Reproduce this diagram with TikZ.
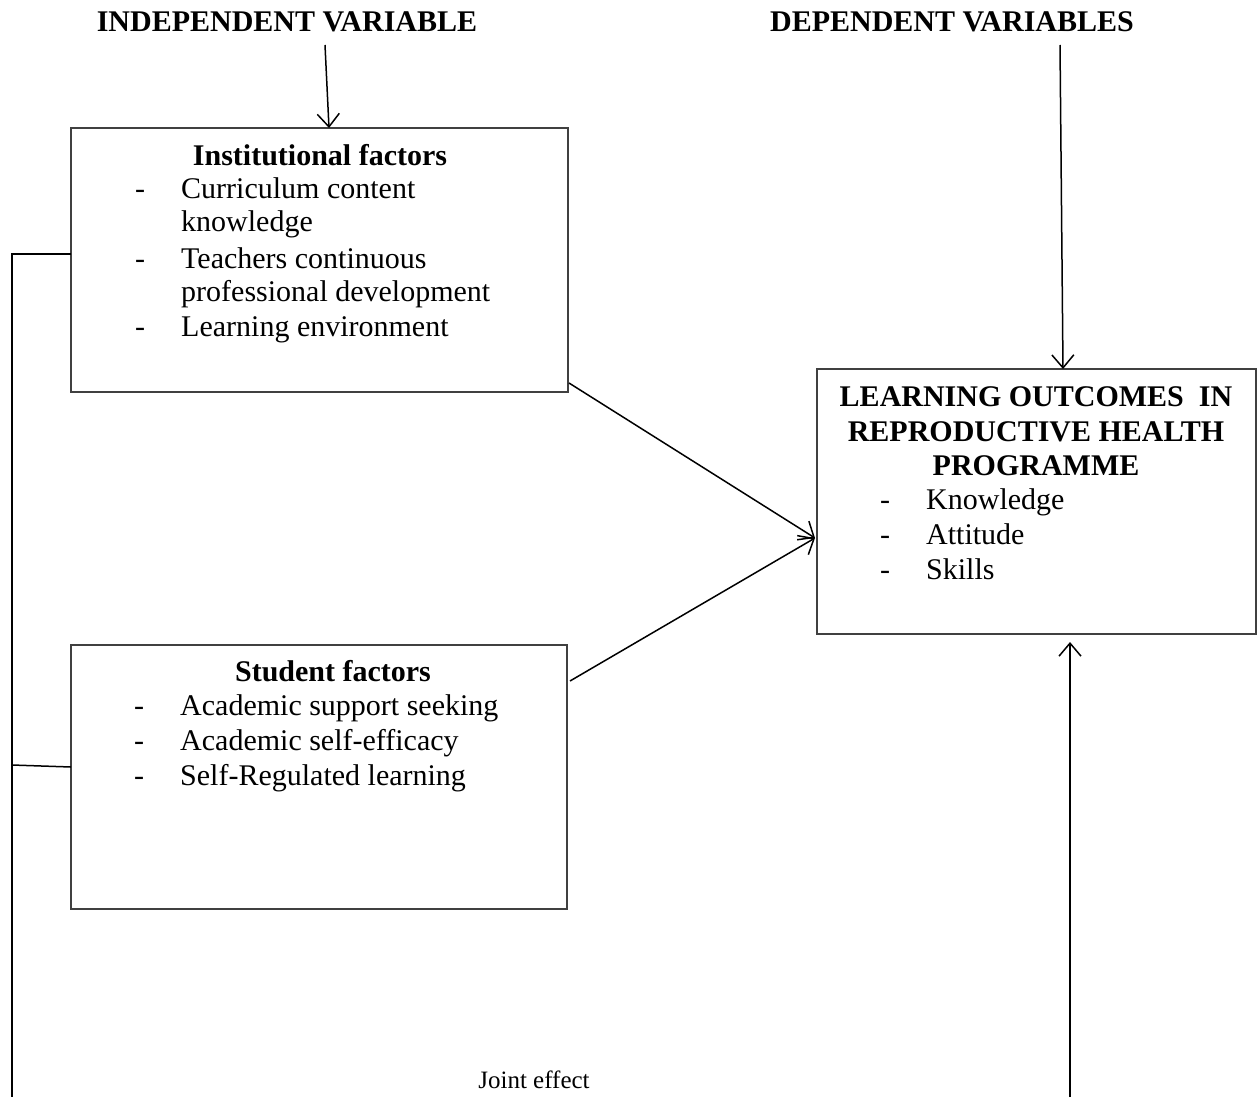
\documentclass[tikz,border=0pt]{standalone}
\usepackage{fontspec}
\setmainfont{Liberation Serif}
\usetikzlibrary{arrows.meta}
\begin{document}
\begin{tikzpicture}[x=1pt,y=-1pt,
  box/.style={draw=black!75,line width=1.2pt,inner sep=0,minimum width=#1},
  txt/.style={inner sep=0,anchor=base west,font=\fontsize{30}{34}\selectfont},
  ctxt/.style={inner sep=0,anchor=base,font=\fontsize{30}{34}\selectfont\bfseries},
  conn/.style={line width=1.5pt,black},
  arr/.style={conn,-{Straight Barb[length=13pt,width=22pt,line width=1.5pt]}}]
\useasboundingbox (0,0) rectangle (1260,1097);
% boxes
\node[box=497pt,minimum height=264pt] (b1) at (319.5,260) {};
\node[box=496pt,minimum height=264pt] (b2) at (319,777) {};
\node[box=439pt,minimum height=265pt] (b3) at (1036.5,501.5) {};
% titles
\node[ctxt] (t1) at (287,32) {INDEPENDENT VARIABLE};
\node[ctxt] (t2) at (952,32) {DEPENDENT VARIABLES};
% box 1 text
\node[ctxt] (h1) at (320,165) {Institutional factors};
\node[txt] (d11) at (135,198) {-};
\node[txt] (i11) at (181,198) {Curriculum content};
\node[txt] (i12) at (181,231) {knowledge};
\node[txt] (d12) at (135,268) {-};
\node[txt] (i13) at (181,268) {Teachers continuous};
\node[txt] (i14) at (181,301) {professional development};
\node[txt] (d13) at (135,336) {-};
\node[txt] (i15) at (181,336) {Learning environment};
% box 2 text
\node[ctxt] (h2) at (333,681) {Student factors};
\node[txt] (d21) at (134,715) {-};
\node[txt] (i21) at (180,715) {Academic support seeking};
\node[txt] (d22) at (134,750) {-};
\node[txt] (i22) at (180,750) {Academic self-efficacy};
\node[txt] (d23) at (134,785) {-};
\node[txt] (i23) at (180,785) {Self-Regulated learning};
% box 3 text
\node[ctxt] (h31) at (1036,406) {LEARNING OUTCOMES\ \ IN};
\node[ctxt] (h32) at (1036,441) {REPRODUCTIVE HEALTH};
\node[ctxt] (h33) at (1036,475) {PROGRAMME};
\node[txt] (d31) at (880,509) {-};
\node[txt] (i31) at (926,509) {Knowledge};
\node[txt] (d32) at (880,544) {-};
\node[txt] (i32) at (926,544) {Attitude};
\node[txt] (d33) at (880,579) {-};
\node[txt] (i33) at (926,579) {Skills};
% joint effect
\node[inner sep=0,anchor=base,font=\fontsize{25}{28}\selectfont] (je) at (534,1088) {Joint effect};
% coordinates
\coordinate (a1s) at (325,45);
\coordinate (a1e) at (329,128);
\coordinate (a2s) at (1060,45);
\coordinate (a2e) at (1063,369);
\coordinate (a3s) at (1070,1097);
\coordinate (a3e) at (1070,642);
\coordinate (c1) at (569,383);
\coordinate (c2) at (570,681);
\coordinate (m) at (815,538);
\coordinate (l1) at (71,254);
\coordinate (l0) at (12,254);
\coordinate (l2) at (71,767);
\coordinate (lm) at (12,765);
\coordinate (lb) at (12,1097);
% connectors
\draw[arr] (a1s) -- (a1e);
\draw[arr] (a2s) -- (a2e);
\draw[arr] (a3s) -- (a3e);
\draw[arr] (c1) -- (m);
\draw[arr] (c2) -- (m);
\draw[conn] (l1) -- (l0) -- (lb);
\draw[conn] (lm) -- (l2);
\end{tikzpicture}
\end{document}
